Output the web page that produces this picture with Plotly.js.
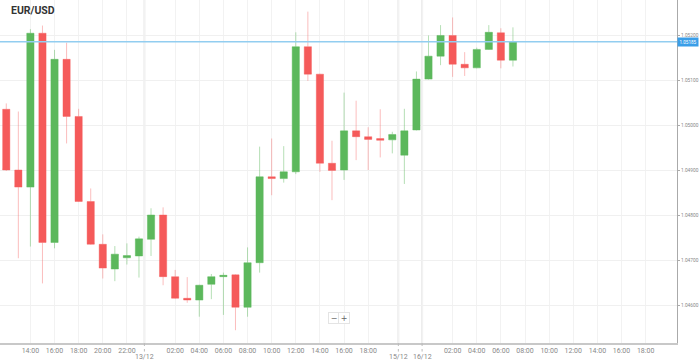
<!DOCTYPE html>
<html><head><meta charset="utf-8">
<script src="https://cdn.plot.ly/plotly-3.0.1.min.js"></script>
<style>html,body{margin:0;padding:0;background:#fff;}#chart{width:699px;height:363px;}</style>
</head><body><div id="chart"></div>
<script>
const candleIndex = Array.from({length: 43}, (_, i) => i);
const openP  = [1.05035,1.04900,1.04862,1.05204,1.04739,1.05146,1.05019,1.04830,1.04735,1.04680,1.04705,1.04709,1.04746,1.04800,1.04663,1.04615,1.04611,1.04646,1.04663,1.04667,1.04595,1.04694,1.04885,1.04881,1.04896,1.05174,1.05113,1.04915,1.04900,1.04987,1.04974,1.04970,1.04967,1.04933,1.04989,1.05102,1.05153,1.05199,1.05135,1.05127,1.05168,1.05205,1.05144];
const highP  = [1.05048,1.05030,1.05213,1.05221,1.05167,1.05183,1.05036,1.04859,1.04757,1.04731,1.04737,1.04752,1.04815,1.04817,1.04678,1.04662,1.04645,1.04669,1.04672,1.04668,1.04728,1.04952,1.04970,1.04953,1.05206,1.05252,1.05114,1.04965,1.05072,1.05054,1.04995,1.05035,1.04985,1.05036,1.05119,1.05199,1.05222,1.05239,1.05162,1.05172,1.05222,1.05215,1.05217];
const lowP   = [1.04898,1.04704,1.04730,1.04648,1.04726,1.04959,1.04829,1.04734,1.04659,1.04653,1.04690,1.04661,1.04709,1.04644,1.04614,1.04605,1.04574,1.04613,1.04578,1.04544,1.04574,1.04672,1.04844,1.04872,1.04891,1.05098,1.04896,1.04833,1.04878,1.04922,1.04900,1.04928,1.04937,1.04869,1.04988,1.05101,1.05133,1.05107,1.05109,1.05126,1.05167,1.05126,1.05130];
const closeP = [1.04900,1.04862,1.05204,1.04739,1.05146,1.05019,1.04830,1.04735,1.04682,1.04713,1.04710,1.04747,1.04800,1.04663,1.04615,1.04611,1.04644,1.04663,1.04666,1.04595,1.04694,1.04885,1.04881,1.04896,1.05174,1.05113,1.04915,1.04899,1.04987,1.04974,1.04968,1.04966,1.04979,1.04987,1.05102,1.05153,1.05199,1.05135,1.05127,1.05168,1.05206,1.05144,1.05185];

const timeTickPos = [2,4,6,8,10,14,16,18,20,22,24,26,28,30,37,39,41,43,45,47,49,51,53];
const timeTickText = ['14:00','16:00','18:00','20:00','22:00','02:00','04:00','06:00','08:00','10:00','12:00','14:00','16:00','18:00','02:00','04:00','06:00','08:00','10:00','12:00','14:00','16:00','18:00'];
const dateTickPos = [11.45, 32.5, 34.47];
const dateTickText = ['13/12','15/12','16/12'];
const priceTicks = [1.046,1.047,1.048,1.049,1.050,1.051,1.052];
const currentPrice = 1.05185;
const symbol = 'EUR/USD';

const trace = {
  type: 'candlestick',
  x: candleIndex, open: openP, high: highP, low: lowP, close: closeP,
  increasing: {line: {color: 'rgba(92,184,92,0.45)', width: 1}, fillcolor: '#5cb85c'},
  decreasing: {line: {color: 'rgba(245,90,90,0.4)', width: 1}, fillcolor: '#f55a5a'},
  whiskerwidth: 0, hoverinfo: 'none', showlegend: false
};

const shapes = dateTickPos.map(p => ({type:'line', xref:'x', yref:'paper', x0:p, x1:p, y0:0, y1:1, line:{color:'#ebebeb', width:2}, layer:'below'}));
dateTickPos.forEach(p => shapes.push({type:'line', xref:'x', yref:'paper', x0:p, x1:p, y0:0, y1:-0.025, line:{color:'#bbb', width:1, dash:'dot'}}));
shapes.push({type:'line', xref:'paper', yref:'y', x0:0, x1:1, y0:currentPrice, y1:currentPrice, line:{color:'#92cdf0', width:1.5}});

const annotations = dateTickPos.map((p, i) => ({xref:'x', yref:'paper', x:p, y:-0.041, text:dateTickText[i], showarrow:false, font:{family:'Roboto', size:7, color:'#888'}, xanchor:'center', yanchor:'middle'}));
annotations.push({xref:'paper', yref:'paper', x:0.014, y:0.968, text:'<b>'+symbol+'</b>', showarrow:false, xanchor:'left', yanchor:'middle', font:{family:'Roboto', size:10.5, color:'#333'}});
annotations.push({xref:'paper', yref:'y', x:1, y:currentPrice, text:currentPrice.toFixed(5), showarrow:false, xanchor:'left', yanchor:'middle', xshift:0, bgcolor:'#3a9ee8', borderpad:1.5, font:{family:'Roboto', size:4.6, color:'#fff'}});
annotations.push({xref:'paper', yref:'paper', x:0.4935, y:0.055, text:'−', showarrow:false, bgcolor:'#fff', bordercolor:'#e4e4e4', borderwidth:1, borderpad:1, font:{family:'DejaVu Sans', size:8, color:'#666'}, width:8, height:8});
annotations.push({xref:'paper', yref:'paper', x:0.5085, y:0.055, text:'+', showarrow:false, bgcolor:'#fff', bordercolor:'#e4e4e4', borderwidth:1, borderpad:1, font:{family:'DejaVu Sans', size:8, color:'#666'}, width:8, height:8});

const layout = {
  width: 699, height: 363,
  margin: {l:0, r:22, t:0, b:20, pad:0},
  paper_bgcolor:'#fff', plot_bgcolor:'#fff',
  boxgap: 0.4, boxgroupgap: 0,
  xaxis: {
    range: [-0.52, 55.6], rangeslider:{visible:false},
    tickmode:'array', tickvals: timeTickPos.concat(dateTickPos), ticktext: timeTickText.concat(dateTickText.map(()=>'')),
    showgrid:true, gridcolor:'#f2f2f2', gridwidth:1,
    showline:true, linecolor:'#c8c8c8', linewidth:2,
    ticks:'', tickfont:{family:'Roboto', size:7, color:'#888'},
    zeroline:false, fixedrange:true
  },
  yaxis: {
    side:'right', range:[1.045156, 1.052778],
    tickmode:'array', tickvals: priceTicks, ticktext: priceTicks.map(v=>v.toFixed(5)),
    showgrid:true, gridcolor:'#f0f0f0', gridwidth:1,
    showline:true, linecolor:'#aaa', linewidth:1,
    ticks:'outside', ticklen:2, tickcolor:'#aaa',
    tickfont:{family:'Roboto', size:4.8, color:'#888'},
    zeroline:false, fixedrange:true
  },
  shapes: shapes, annotations: annotations, hovermode:false
};

Plotly.newPlot('chart', [trace], layout, {displayModeBar:false, staticPlot:true});
</script></body></html>
